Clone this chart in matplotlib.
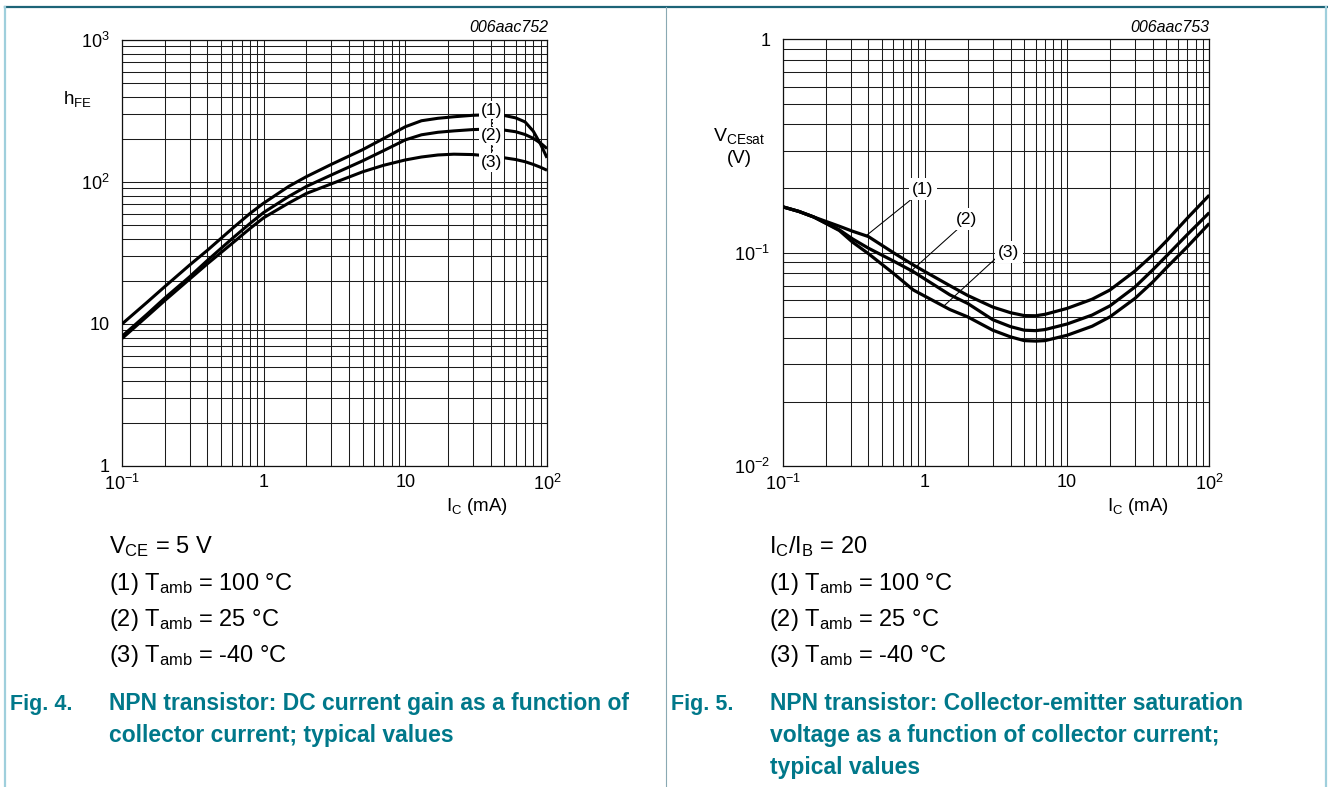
#!/usr/bin/env python3
"""
Datasheet figures 4 and 5: NPN transistor hFE and VCEsat versus collector current.
Two log-log panels with full decade grids, condition text and teal captions.
Output: out.png (1328x787)
"""

import matplotlib
matplotlib.use("Agg")
import matplotlib.pyplot as plt
from matplotlib.lines import Line2D
from matplotlib.ticker import LogLocator, NullFormatter

W, H = 1328, 787
TEAL = "#00788a"
GRID = "#1c1c1c"

# DATA — Fig. 4, DC current gain (VCE = 5 V)
ic_hfe   = [0.1, 0.15, 0.2, 0.3, 0.4, 0.6, 0.8, 1, 1.5, 2, 3, 5, 7, 10, 13, 17, 22,
            30, 40, 50, 60, 70, 80, 90, 100]
hfe_100c = [10, 14.2, 18.3, 26, 33, 47, 60, 71, 93, 109, 133, 169, 202, 245, 270, 281, 288,
            295, 298, 294, 283, 265, 228, 185, 148]
hfe_25c  = [8.2, 11.7, 15.2, 21.5, 28, 40, 51, 61, 79, 93, 112, 141, 166, 198, 215, 224, 229,
            234, 236, 232, 226, 216, 203, 188, 172]
hfe_m40c = [7.9, 11.3, 14.6, 20.7, 26.5, 37, 47, 56, 71, 83, 97, 118, 131, 143, 150, 155, 157,
            156, 152, 148, 144, 139, 133, 127, 121]

# DATA — Fig. 5, collector-emitter saturation voltage (IC/IB = 20)
ic_vce   = [0.1, 0.13, 0.165, 0.25, 0.31, 0.4, 0.6, 0.83, 1, 1.5, 2, 3, 4, 5, 6, 7, 10,
            15, 20, 30, 40, 50, 70, 100]
vce_100c = [0.164, 0.156, 0.147, 0.133, 0.126, 0.119, 0.100, 0.0875, 0.0815, 0.070, 0.063,
            0.0556, 0.0523, 0.0507, 0.0506, 0.0514, 0.0548, 0.0605, 0.0668, 0.082, 0.0975,
            0.1135, 0.145, 0.186]
vce_25c  = [0.164, 0.156, 0.147, 0.128, 0.116, 0.105, 0.0914, 0.0814, 0.0752, 0.0634, 0.0578,
            0.0485, 0.0450, 0.0433, 0.0431, 0.0436, 0.0463, 0.051, 0.0563, 0.069, 0.083,
            0.0965, 0.1215, 0.154]
vce_m40c = [0.164, 0.156, 0.147, 0.127, 0.112, 0.099, 0.080, 0.0668, 0.0625, 0.0541, 0.050,
            0.0433, 0.0403, 0.0387, 0.0385, 0.0387, 0.041, 0.0452, 0.050, 0.061, 0.0728,
            0.085, 0.1065, 0.137]

x_ticks      = [0.1, 1, 10, 100]
x_ticklabels = [r"$10^{-1}$", "1", "10", r"$10^{2}$"]
hfe_ticks      = [1, 10, 100, 1000]
hfe_ticklabels = ["1", "10", r"$10^{2}$", r"$10^{3}$"]
vce_ticks      = [0.01, 0.1, 1]
vce_ticklabels = [r"$10^{-2}$", r"$10^{-1}$", "1"]

cond_lines = [r"(1) $T_{amb}$ = 100 °C", r"(2) $T_{amb}$ = 25 °C", r"(3) $T_{amb}$ = -40 °C"]


# pixel -> figure fraction
def _fx(px):
    return px / W


def _fy(py):
    return 1 - py / H


def _ftext(fig, px, py, s, **kw):
    fig.text(_fx(px), _fy(py), s, **kw)


# Common log-log styling: full grid of 1..9 per decade, no tick marks.
def _style_axes(ax, yticks, yticklabels):
    ax.set_xscale("log")
    ax.set_yscale("log")
    ax.set_xlim(0.1, 100)
    ax.set_ylim(yticks[0], yticks[-1])
    ax.set_xticks(x_ticks, labels=x_ticklabels)
    ax.set_yticks(yticks, labels=yticklabels)
    for axis in (ax.xaxis, ax.yaxis):
        axis.set_minor_locator(LogLocator(base=10, subs=range(2, 10), numticks=20))
        axis.set_minor_formatter(NullFormatter())
    ax.grid(True, which="both", color=GRID, linewidth=0.75)
    ax.set_axisbelow(True)
    ax.tick_params(which="both", length=0, labelsize=13)
    ax.tick_params(axis="x", pad=6)
    ax.tick_params(axis="y", pad=9)
    for sp in ax.spines.values():
        sp.set_color("#111111")
        sp.set_linewidth(0.9)


def _draw_hfe(fig):
    ax = fig.add_axes([_fx(122), _fy(466), (547 - 122) / W, (466 - 40) / H])
    _style_axes(ax, hfe_ticks, hfe_ticklabels)
    for ys in (hfe_100c, hfe_25c, hfe_m40c):
        ax.plot(ic_hfe, ys, color="black", linewidth=2.2, zorder=3, solid_capstyle="butt")

    # curve labels stacked on a dashed leader
    ax.plot([40.6, 40.6], [300, 140], color="black", linewidth=0.7, linestyle=(0, (2, 2)), zorder=4)
    for lab, yv in (("(1)", 321), ("(2)", 211), ("(3)", 137)):
        ax.text(40.6, yv, lab, ha="center", va="center", fontsize=12.5, zorder=6,
                bbox=dict(boxstyle="square,pad=0.1", fc="white", ec="none"))

    _ftext(fig, 548, 32, "006aac752", ha="right", va="baseline", fontsize=11.5, style="italic")
    _ftext(fig, 63, 104, r"h$_{FE}$", ha="left", va="baseline", fontsize=13.5)
    _ftext(fig, 477, 511, r"$I_{C}$ (mA)", ha="center", va="baseline", fontsize=13.5)


def _draw_vce(fig):
    ax = fig.add_axes([_fx(782.7), _fy(466), (1209.3 - 782.7) / W, (466 - 39.3) / H])
    _style_axes(ax, vce_ticks, vce_ticklabels)
    for ys in (vce_100c, vce_25c, vce_m40c):
        ax.plot(ic_vce, ys, color="black", linewidth=2.3, zorder=3, solid_capstyle="butt")

    # leader lines from labels to curves
    leaders = [((0.8247, 0.1803), (0.3914, 0.1209)),
               ((1.765, 0.1318), (0.7855, 0.0811)),
               ((3.11, 0.0933), (1.382, 0.0568))]
    for (x0, y0), (x1, y1) in leaders:
        ax.plot([x0, x1], [y0, y1], color="black", linewidth=0.75, zorder=4)
    for lab, xv, yv in (("(1)", 0.97, 0.198), ("(2)", 1.977, 0.1437), ("(3)", 3.90, 0.1007)):
        ax.text(xv, yv, lab, ha="center", va="center", fontsize=12.5, zorder=6,
                bbox=dict(boxstyle="square,pad=0.2", fc="white", ec="none"))

    _ftext(fig, 1209, 32, "006aac753", ha="right", va="baseline", fontsize=11.5, style="italic")
    _ftext(fig, 739, 141, r"V$_{CEsat}$", ha="center", va="baseline", fontsize=14)
    _ftext(fig, 739, 163, "(V)", ha="center", va="baseline", fontsize=13.5)
    _ftext(fig, 1138, 511, r"$I_{C}$ (mA)", ha="center", va="baseline", fontsize=13.5)


def _draw_text(fig):
    base = [553, 590, 626, 662]
    _ftext(fig, 109, base[0], r"$V_{CE}$ = 5 V", fontsize=17, va="baseline")
    _ftext(fig, 769, base[0], r"$I_{C}$/$I_{B}$ = 20", fontsize=17, va="baseline")
    for i, s in enumerate(cond_lines):
        _ftext(fig, 109, base[i + 1], s, fontsize=17, va="baseline")
        _ftext(fig, 769, base[i + 1], s, fontsize=17, va="baseline")

    fig_lab = dict(fontsize=15.5, fontweight="bold", color=TEAL, va="baseline")
    cap = dict(fontsize=16.5, fontweight="bold", color=TEAL, va="baseline")
    _ftext(fig, 10, 710, "Fig. 4.", **fig_lab)
    _ftext(fig, 109, 710, "NPN transistor: DC current gain as a function of", **cap)
    _ftext(fig, 109, 742, "collector current; typical values", **cap)
    _ftext(fig, 671, 710, "Fig. 5.", **fig_lab)
    _ftext(fig, 770, 710, "NPN transistor: Collector-emitter saturation", **cap)
    _ftext(fig, 770, 742, "voltage as a function of collector current;", **cap)
    _ftext(fig, 770, 774, "typical values", **cap)


def _draw_frame(fig):
    tf = fig.transFigure
    fig.add_artist(Line2D([_fx(5), _fx(1327)], [_fy(7), _fy(7)], transform=tf,
                          color="#1d6477", linewidth=1.6))
    fig.add_artist(Line2D([_fx(5), _fx(5)], [_fy(7), 0], transform=tf,
                          color="#9fcfdc", linewidth=1.6))
    fig.add_artist(Line2D([_fx(1326), _fx(1326)], [_fy(7), 0], transform=tf,
                          color="#9fcfdc", linewidth=1.6))
    fig.add_artist(Line2D([_fx(665.5), _fx(665.5)], [_fy(7), 0], transform=tf,
                          color="#8aa9b3", linewidth=0.8))


def main():
    plt.rcParams["font.family"] = ["Liberation Sans", "DejaVu Sans"]
    plt.rcParams["mathtext.fontset"] = "custom"
    plt.rcParams["mathtext.rm"] = "Liberation Sans"
    plt.rcParams["mathtext.it"] = "Liberation Sans:italic"
    plt.rcParams["mathtext.bf"] = "Liberation Sans:bold"
    plt.rcParams["mathtext.default"] = "regular"

    fig = plt.figure(figsize=(W / 100, H / 100), dpi=100)
    _draw_frame(fig)
    _draw_hfe(fig)
    _draw_vce(fig)
    _draw_text(fig)
    fig.savefig("out.png", dpi=100)
    plt.close(fig)


if __name__ == "__main__":
    main()
